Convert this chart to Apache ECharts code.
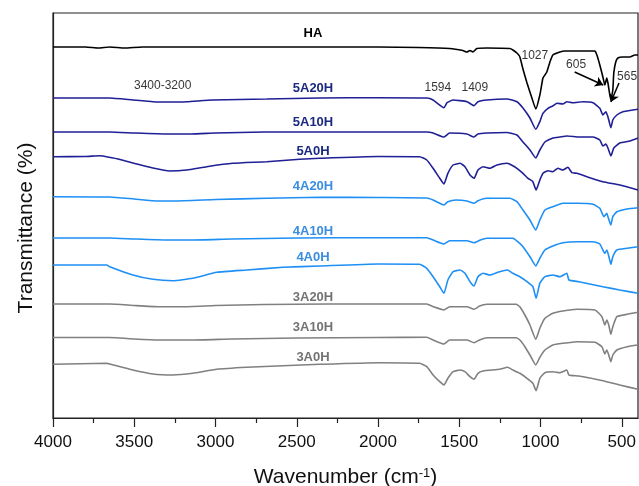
<!DOCTYPE html>
<html>
<head>
<meta charset="utf-8">
<script src="https://cdn.jsdelivr.net/npm/echarts@6/dist/echarts.min.js"></script>
<style>
  html, body { margin: 0; padding: 0; background: #fff; }
  #chart { width: 639px; height: 486px; }
</style>
</head>
<body>
<div id="chart"></div>
<script>
// FTIR spectra, stacked; y is transmittance in arbitrary offset units
const sampleNames = ['HA', '5A20H', '5A10H', '5A0H', '4A20H', '4A10H', '4A0H', '3A20H', '3A10H', '3A0H'];

const ha = [[4000,371],[3800,371],[3720,370],[3650,371],[3560,370],[3450,371],[3000,371],[2500,371],[2000,371],[1750,370.5],[1560,369.5],[1478,367.5],[1453,366],[1434,367.5],[1416,366],[1392,369.5],[1330,370],[1188,369.5],[1170,368],[1145,365],[1127,361],[1108,349],[1083,335],[1053,320],[1029,309],[1004,323],[985,340],[973,343],[961,346],[942,356],[924,363],[881,366],[850,367],[760,367],[665,367],[653,363],[635,353],[616,341],[604,333],[592,340],[585,335],[567,318],[555,328],[549,345],[537,356],[524,360],[493,361],[450,361],[420,363],[400,363]];

const a5_20 = [[4000,320],[3651,320],[3509,318],[3385,316.3],[3281,316],[3176,316.3],[3017,318],[2685,319],[2359,320],[2000,320.3],[1700,320],[1661,318],[1594,310.3],[1575,315.3],[1538,318],[1453,316.3],[1409,312.3],[1385,316.3],[1330,318],[1207,319],[1145,316.3],[1108,310],[1065,300],[1029,288.7],[1004,296.3],[985,304.7],[954,309.7],[924,312],[899,314.7],[862,314],[838,316.3],[801,315.3],[739,316.3],[677,315.3],[635,309.7],[616,303],[598,306.3],[585,301.3],[567,290.3],[555,298],[530,303],[493,306.3],[432,308],[400,308.7]];

const a5_10 = [[4000,286],[3650,286],[3500,285],[3300,284],[3150,284],[3000,285],[2700,286],[2000,286],[1700,286],[1661,285],[1594,281],[1560,285],[1453,284],[1409,281],[1385,284],[1330,285],[1207,285.5],[1145,283],[1108,276],[1065,268],[1029,260],[1004,268],[973,276],[924,280],[881,281],[838,282],[760,281],[677,281],[635,278],[616,272],[598,274],[585,270],[567,262],[549,270],[512,275],[450,277],[400,280]];

const a5_0 = [[4000,261.3],[3800,261.5],[3712,262.3],[3693,262],[3600,259],[3509,255],[3385,250],[3282,247],[3177,248],[3054,251.3],[2894,254.7],[2685,256.3],[2482,258.7],[2359,259.7],[2000,261.5],[1744,261.3],[1700,258],[1661,249.7],[1620,239.7],[1594,234],[1570,244.7],[1538,253],[1495,254.7],[1465,251.3],[1434,243],[1409,239.7],[1385,248],[1354,251.3],[1311,249.7],[1268,253],[1207,254.7],[1188,253.7],[1145,249.7],[1108,244.7],[1077,239.7],[1047,236.3],[1027,228],[1004,238],[985,244.7],[954,247.3],[924,246.3],[893,249.7],[862,248],[831,250.7],[807,245.3],[776,244.7],[715,241.3],[616,236.3],[512,233],[400,228]];

const a4_20 = [[4000,221.3],[3650,221],[3500,219],[3350,217],[3250,217],[3000,218.5],[2685,219.7],[2359,220.7],[2000,220.5],[1700,220],[1661,218],[1594,213],[1570,216.3],[1520,218],[1453,217],[1409,214.7],[1385,217.3],[1330,219.7],[1188,219.7],[1145,216.3],[1108,208],[1065,198],[1029,188],[1004,198],[973,208],[924,211.3],[862,214.7],[776,214.7],[677,213.7],[635,209.7],[610,201.3],[592,204.7],[585,201.3],[567,193],[555,201.3],[530,206.3],[467,209],[400,210.3]];

const a4_10 = [[4000,180],[3650,180],[3500,179],[3300,178],[3150,178],[2900,179],[2500,180],[2000,180.3],[1700,180.3],[1661,178],[1594,174],[1560,177.3],[1453,177.3],[1409,175.3],[1370,178],[1330,179.7],[1170,179.7],[1140,176.3],[1108,171.3],[1065,161.3],[1029,152],[1004,159.7],[973,168],[924,172],[862,175.3],[776,176.3],[677,176.3],[635,174],[604,164.7],[592,168],[580,162],[567,153.7],[555,161.3],[530,168],[467,169.7],[400,171.3]];

const a4_0 = [[4000,153],[3669,153],[3651,151.3],[3509,143],[3385,138.7],[3263,137.3],[3140,139.7],[2992,145.7],[2807,148],[2585,150.7],[2358,152],[2000,154],[1744,153.7],[1700,149.7],[1661,141.3],[1620,131.3],[1594,124.7],[1570,138],[1538,146.3],[1495,148],[1465,144.7],[1434,136.3],[1409,132],[1385,141.3],[1354,144.7],[1311,143],[1252,146.3],[1203,148],[1170,144.7],[1127,141.3],[1083,136.3],[1047,131.3],[1027,119.7],[1004,134.7],[973,141.3],[924,143],[881,141.3],[838,144.7],[825,138],[764,136.3],[616,131.3],[512,128],[400,124.7]];

const a3_20 = [[4000,114],[3650,114],[3500,112.5],[3350,111.3],[3200,111.3],[3000,112.5],[2700,113.5],[2300,114],[2000,114],[1700,114],[1661,111.3],[1594,108],[1560,111.3],[1453,111.3],[1409,108.7],[1375,112],[1330,113.7],[1150,113.7],[1127,111.3],[1096,103],[1065,93],[1029,78.7],[1004,89.7],[973,99.7],[924,104.7],[862,107],[776,108.7],[665,108],[622,101.3],[604,93],[592,98],[580,93],[567,83.7],[555,91.3],[530,101.3],[467,103.7],[400,105.7]];

const a3_10 = [[4000,80.5],[3650,80.5],[3500,79],[3350,78],[3150,78],[2900,79],[2500,80],[2000,80.5],[1700,80.7],[1661,78],[1594,74],[1560,78],[1453,78],[1409,75.3],[1375,78],[1330,80.3],[1150,80.3],[1127,78],[1096,71.3],[1065,63],[1029,53],[1004,60.7],[973,68],[924,73],[862,74.7],[776,76.3],[665,75.7],[622,71.3],[604,64],[592,68],[580,63],[567,56.3],[555,63],[530,68],[467,71.3],[400,73]];

const a3_0 = [[4000,53.7],[3669,54.7],[3651,54],[3509,48],[3385,44],[3263,43],[3140,44.7],[2992,48.7],[2807,50.7],[2585,52.3],[2358,53.7],[2000,55.3],[1744,54.7],[1700,51.3],[1661,43],[1620,36.3],[1594,33],[1570,39.7],[1538,46.3],[1495,48],[1465,46.3],[1434,41.3],[1409,38.7],[1385,44.7],[1354,47],[1252,48.7],[1203,50.7],[1170,48],[1127,44.7],[1083,39.7],[1047,34.7],[1027,27.3],[1004,39.7],[973,45.3],[924,46.3],[881,45.3],[838,48],[825,43],[764,42],[616,37.3],[512,33],[400,28.7]];

const spectra = [ha, a5_20, a5_10, a5_0, a4_20, a4_10, a4_0, a3_20, a3_10, a3_0];

// sample label positions (wavenumber, y)
const labelWn = 2400;
const labelY = [385, 330, 296, 267, 232, 187, 161, 121, 91, 61];

// peak annotations
const peakText = ['3400-3200', '1594', '1409', '1027', '605', '565'];
const peakWn = [3325, 1632, 1404, 1035, 781, 467];
const peakY = [332, 330, 330, 362, 353, 341];
const arrowFrom = [[790, 346], [517, 335]];
const arrowTo = [[614, 333], [567, 316]];

const xTicks = [4000, 3500, 3000, 2500, 2000, 1500, 1000, 500];
const xMinorTicks = [3750, 3250, 2750, 2250, 1750, 1250, 750];

const FONT = '"Liberation Sans", Arial, sans-serif';

function colorOf(name) {
  if (name === 'HA') return '#000000';
  if (name.charAt(0) === '5') return '#1f1f96';
  if (name.charAt(0) === '4') return '#1e8ff5';
  return '#808080';
}
function labelColorOf(name) {
  if (name === 'HA') return '#000000';
  if (name.charAt(0) === '5') return '#1b2a80';
  if (name.charAt(0) === '4') return '#3a8de0';
  return '#737373';
}

let series = [];
for (let i = 0; i < sampleNames.length; i++) {
  let nm = sampleNames[i];
  series.push({
    name: nm,
    type: 'line',
    data: spectra[i],
    symbol: 'none',
    smooth: 0.15,
    lineStyle: { color: colorOf(nm), width: 1.6 },
    z: 3,
    markPoint: {
      silent: true,
      symbol: 'circle',
      symbolSize: 1,
      itemStyle: { color: 'rgba(0,0,0,0)' },
      label: {
        show: true,
        position: 'inside',
        formatter: nm,
        color: labelColorOf(nm),
        fontWeight: 'bold',
        fontSize: 13,
        fontFamily: FONT
      },
      data: [{ coord: [labelWn, labelY[i]] }]
    }
  });
}

let peakData = [];
for (let i = 0; i < peakText.length; i++) {
  peakData.push({ value: [peakWn[i], peakY[i]], name: peakText[i] });
}
let arrowData = [];
for (let i = 0; i < arrowFrom.length; i++) {
  arrowData.push([{ coord: arrowFrom[i] }, { coord: arrowTo[i] }]);
}

series.push({
  name: 'peaks',
  type: 'scatter',
  data: peakData,
  symbolSize: 1,
  itemStyle: { color: 'rgba(0,0,0,0)' },
  silent: true,
  z: 5,
  label: {
    show: true,
    position: 'inside',
    formatter: '{b}',
    color: '#000',
    fontSize: 12,
    fontFamily: FONT
  },
  markLine: {
    silent: true,
    symbol: ['none', 'arrow'],
    symbolSize: 8,
    lineStyle: { color: '#000', width: 1.5, type: 'solid' },
    label: { show: false },
    data: arrowData
  }
});

let chartInstance = echarts.init(document.getElementById('chart'));

let option = {
  animation: false,
  backgroundColor: '#fff',
  grid: {
    left: 53, right: 1, top: 13, bottom: 68,
    outerBoundsMode: 'none',
    containLabel: false,
    show: true,
    borderColor: '#222',
    borderWidth: 1.2
  },
  xAxis: [
    {
      type: 'value',
      inverse: true,
      min: 400,
      max: 4000,
      position: 'bottom',
      name: 'Wavenumber (cm{sup|-1})',
      nameLocation: 'middle',
      nameGap: 49,
      nameTextStyle: {
        fontSize: 21,
        color: '#111',
        fontFamily: FONT,
        rich: {
          sup: { fontSize: 13, verticalAlign: 'top', color: '#111', fontFamily: FONT }
        }
      },
      axisLine: { show: true, lineStyle: { color: '#222', width: 1.2 } },
      axisTick: { show: true, inside: false, length: 9, customValues: xTicks, lineStyle: { color: '#222', width: 1.2 } },
      axisLabel: {
        show: true, customValues: xTicks, fontSize: 17, color: '#111', margin: 16, fontFamily: FONT,
        formatter: function (v) { return String(v); }
      },
      splitLine: { show: false }
    },
    {
      type: 'value',
      inverse: true,
      min: 400,
      max: 4000,
      position: 'bottom',
      axisLine: { show: false },
      axisTick: { show: true, inside: false, length: 5, customValues: xMinorTicks, lineStyle: { color: '#222', width: 1.2 } },
      axisLabel: { show: false },
      splitLine: { show: false }
    }
  ],
  yAxis: {
    type: 'value',
    min: 0,
    max: 405,
    name: 'Transmittance (%)',
    nameLocation: 'middle',
    nameGap: 16,
    nameTextStyle: { fontSize: 21, color: '#111', fontFamily: FONT, padding: [0, 25, 0, 0] },
    axisLine: { show: true, lineStyle: { color: '#222', width: 1.2 } },
    axisTick: { show: false },
    axisLabel: { show: false },
    splitLine: { show: false }
  },
  series: series
};

chartInstance.setOption(option);
</script>
</body>
</html>
